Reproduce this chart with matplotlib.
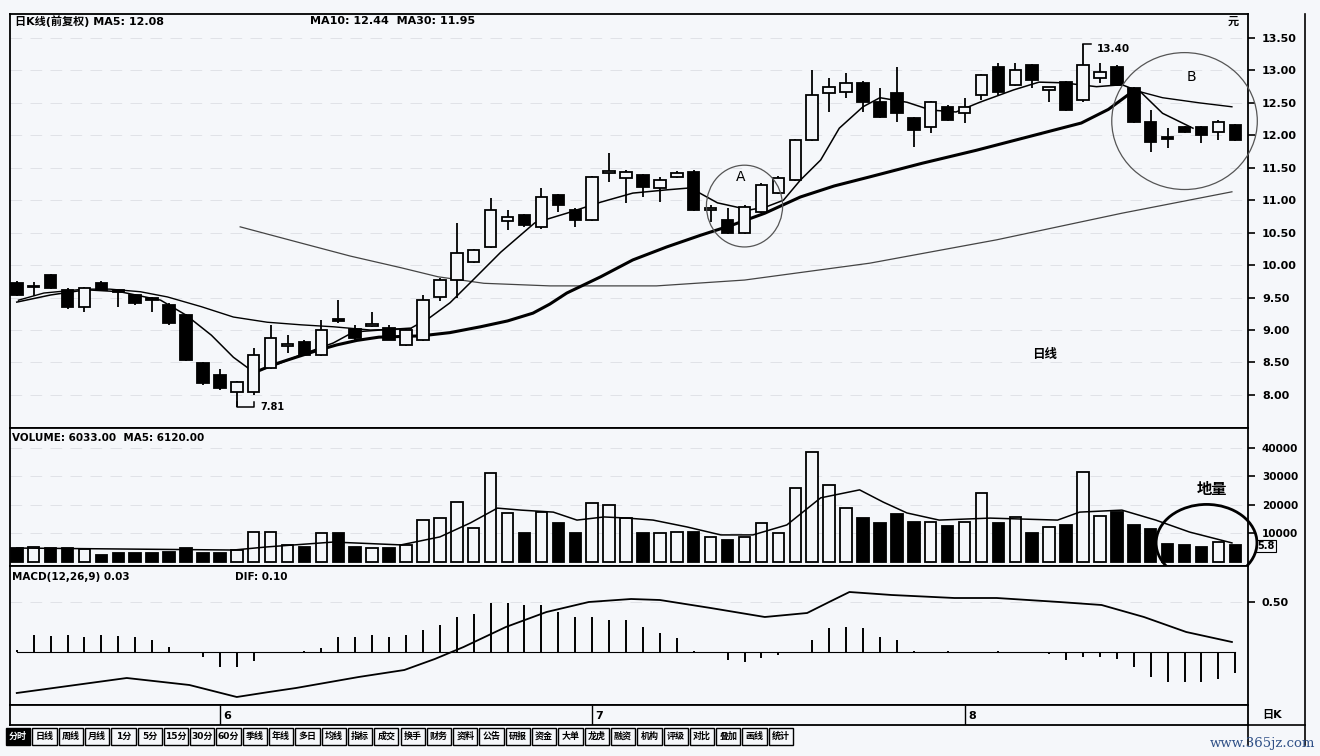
import matplotlib
matplotlib.use('Agg')
import matplotlib.pyplot as plt
from matplotlib.patches import Ellipse, Rectangle
from matplotlib.lines import Line2D
import numpy as np

plt.rcParams['font.family'] = ['DejaVu Sans', 'Noto Sans CJK SC']

# ---- 日K线数据 ----
opens = [9.73, 9.66, 9.85, 9.62, 9.36, 9.73, 9.60, 9.54, 9.48, 9.39, 9.23, 8.49, 8.31, 8.05, 8.05, 8.42,
         8.76, 8.82, 8.62, 9.15, 9.02, 9.06, 9.03, 8.77, 8.85, 9.51, 9.77, 10.05, 10.28, 10.68, 10.77, 10.59,
         11.08, 10.85, 10.70, 11.42, 11.34, 11.39, 11.19, 11.36, 11.44, 10.85, 10.70, 10.50, 10.82, 11.11,
         11.31, 11.93, 12.65, 12.67, 12.81, 12.51, 12.65, 12.27, 12.13, 12.44, 12.34, 12.62, 13.05, 12.78,
         13.08, 12.70, 12.82, 12.54, 12.88, 13.05, 12.73, 12.21, 11.97, 12.13, 12.13, 12.05, 12.16]
closes = [9.54, 9.68, 9.65, 9.36, 9.65, 9.62, 9.59, 9.42, 9.47, 9.11, 8.54, 8.18, 8.10, 8.20, 8.62, 8.88,
          8.78, 8.62, 9.00, 9.14, 8.88, 9.08, 8.85, 9.00, 9.46, 9.77, 10.19, 10.23, 10.85, 10.74, 10.62, 11.05,
          10.93, 10.70, 11.36, 11.43, 11.44, 11.20, 11.31, 11.42, 10.85, 10.88, 10.50, 10.90, 11.24, 11.34,
          11.93, 12.62, 12.75, 12.81, 12.51, 12.28, 12.34, 12.08, 12.51, 12.24, 12.44, 12.93, 12.67, 13.01,
          12.85, 12.74, 12.39, 13.08, 12.98, 12.78, 12.21, 11.90, 11.95, 12.05, 12.01, 12.21, 11.93]
highs = [9.75, 9.74, 9.87, 9.64, 9.67, 9.76, 9.62, 9.55, 9.51, 9.42, 9.25, 8.50, 8.40, 8.22, 8.72, 9.08,
         8.92, 8.84, 9.15, 9.46, 9.07, 9.28, 9.08, 9.02, 9.54, 9.80, 10.65, 10.25, 11.03, 10.85, 10.79, 11.19,
         11.10, 10.88, 11.38, 11.73, 11.46, 11.41, 11.36, 11.45, 11.46, 10.92, 10.88, 10.92, 11.26, 11.38,
         11.95, 13.01, 12.88, 12.96, 12.83, 12.73, 13.05, 12.29, 12.53, 12.46, 12.58, 12.95, 13.11, 13.11,
         13.10, 12.75, 12.84, 13.40, 13.11, 13.08, 12.75, 12.39, 12.11, 12.15, 12.15, 12.23, 12.18]
lows = [9.52, 9.52, 9.63, 9.33, 9.28, 9.60, 9.36, 9.38, 9.28, 9.08, 8.52, 8.16, 8.08, 7.81, 8.00, 8.40,
        8.65, 8.60, 8.60, 9.11, 8.83, 9.04, 8.84, 8.75, 8.83, 9.45, 9.50, 10.03, 10.26, 10.54, 10.58, 10.56,
        10.82, 10.59, 10.68, 11.28, 10.96, 11.05, 10.97, 11.34, 10.83, 10.66, 10.48, 10.48, 10.80, 11.09,
        11.29, 11.91, 12.36, 12.58, 12.36, 12.26, 12.21, 11.82, 12.04, 12.22, 12.19, 12.54, 12.62, 12.76,
        12.73, 12.51, 12.37, 12.52, 12.81, 12.76, 12.19, 11.74, 11.81, 12.03, 11.88, 11.93, 11.91]

volumes = [4900, 5300, 4900, 4900, 4500, 2500, 3200, 3200, 3200, 3500, 4900, 3200, 3200, 4200, 10500,
           10500, 6000, 5300, 10200, 10200, 5300, 4900, 4900,
           6000, 14700, 15400, 21000, 11900, 31200, 17200, 10200, 17500, 13700, 10200, 20700, 20000, 15400,
           10200, 10200, 10500, 10500, 8800, 7700, 8800, 13700, 10200, 26000, 38600, 27000, 18900, 15400,
           13700, 16800, 14000, 14000, 12600, 14000, 24200, 13700, 15800, 10200, 12300, 13000, 31600, 16100,
           17500, 13000, 11600, 6300, 6000, 5300, 7000, 6000]

# 均线 (读图取点: K线序号, 价格)
ma5_idx = [0, 2.0, 4.1, 6.1, 8.5, 10.0, 11.5, 12.8, 14.0, 15.3, 16.8, 18.7, 19.9, 21.5, 23.3, 24.4, 25.6,
           26.8, 28.6, 30.6, 32.5, 34.5, 36.4, 38.4, 39.8, 41.4, 43.3, 44.3, 45.3, 46.3, 47.5, 48.6, 50.0,
           51.0, 52.6, 54.0, 55.5, 56.9, 58.9, 60.4, 61.8, 63.8, 65.3, 66.4, 67.7, 69.5]
ma5_val = [9.43, 9.54, 9.62, 9.59, 9.46, 9.23, 8.92, 8.58, 8.35, 8.46, 8.62, 8.80, 8.97, 9.00, 9.03, 9.19,
           9.42, 9.73, 10.20, 10.65, 10.80, 10.97, 11.11, 11.16, 11.19, 10.96, 10.85, 10.90, 11.00, 11.31,
           11.62, 12.11, 12.44, 12.58, 12.51, 12.39, 12.36, 12.51, 12.70, 12.82, 12.81, 12.75, 12.78, 12.67,
           12.34, 12.11]
ma10_idx = [0.1, 1.6, 4.0, 5.5, 7.3, 8.9, 10.9, 12.8, 14.8, 16.8, 18.7, 20.9, 23.3,
            np.nan, 66.4, 67.7, 69.9, 71.8]
ma10_val = [9.46, 9.57, 9.63, 9.63, 9.59, 9.51, 9.36, 9.20, 9.12, 9.08, 9.05, 9.00, 9.02,
            np.nan, 12.67, 12.58, 12.50, 12.44]
ma30_idx = [14.0, 15.2, 16.5, 17.7, 18.9, 20.1, 21.4, 23.9, 25.6, 27.4, 29.0, 30.5, 31.5, 32.5, 34.5,
            36.4, 38.4, 40.4, 42.3, 44.2, 46.3, 48.3, 50.4, 53.5, 56.7, 59.8, 62.9, 64.5, 65.8]
ma30_val = [8.34, 8.47, 8.58, 8.68, 8.77, 8.84, 8.89, 8.91, 8.96, 9.05, 9.14, 9.26, 9.40, 9.57, 9.82,
            10.08, 10.28, 10.46, 10.62, 10.80, 11.05, 11.22, 11.36, 11.57, 11.77, 11.98, 12.19, 12.40, 12.65]
ma60_idx = [13.2, 16.8, 19.7, 22.7, 24.9, 27.6, 31.5, 37.8, 43.0, 50.4, 57.9, 65.3, 71.8]
ma60_val = [10.59, 10.34, 10.14, 9.96, 9.82, 9.72, 9.68, 9.68, 9.77, 10.03, 10.39, 10.80, 11.13]

vma_idx = [0, 12.8, 14.8, 18.7, 22.7, 25.0, 26.8, 28.4, 29.8, 31.7, 33.1, 34.7, 36.1, 37.6, 39.6, 41.6,
           43.5, 45.5, 47.5, 49.8, 51.2, 52.6, 54.5, 57.5, 61.5, 62.8, 65.3, 67.3, 69.3, 71.8]
vma_val = [4900, 4200, 5300, 7000, 6000, 8800, 13700, 18900, 18200, 17500, 14700, 15800, 15400, 14700,
           12300, 9500, 9500, 13000, 22500, 25300, 21000, 17200, 14700, 15400, 14700, 17500, 18200, 14700,
           10500, 6700]

macd_hist = [0.02, 0.17, 0.16, 0.17, 0.15, 0.17, 0.16, 0.15, 0.12, 0.05,
             0.0, -0.05, -0.15, -0.15, -0.09, -0.01, 0.0, 0.01,
             0.04, 0.15, 0.15, 0.17, 0.15, 0.17, 0.22, 0.27, 0.35, 0.38, 0.49, 0.49, 0.47, 0.47, 0.40, 0.35,
             0.35, 0.32, 0.32, 0.25, 0.19, 0.14, 0.01, 0.0, -0.08, -0.10, -0.06, -0.03, 0.0, 0.12, 0.24, 0.25,
             0.24, 0.15, 0.12,
             0.01, 0.0, 0.01, 0.0, -0.01, 0.01, 0.0, -0.01, -0.02,
             -0.08, -0.05, -0.05, -0.07, -0.15, -0.25, -0.30, -0.30, -0.30, -0.27, -0.21]
dif_idx = [0, 6.5, 10.2, 13.0, 14.9, 16.5, 20.2, 22.9, 24.7, 26.4, 28.9, 31.3, 33.8, 36.3, 38.0, 41.0,
           44.2, 46.7, 48.0, 49.2, 51.7, 55.4, 57.9, 61.6, 64.1, 66.6, 69.1, 71.8]
dif_val = [-0.41, -0.26, -0.33, -0.45, -0.40, -0.36, -0.25, -0.18, -0.07, 0.05, 0.25, 0.40, 0.50, 0.53,
           0.52, 0.44, 0.35, 0.39, 0.50, 0.60, 0.57, 0.54, 0.54, 0.50, 0.47, 0.35, 0.20, 0.10]

price_ticks = [8.0, 8.5, 9.0, 9.5, 10.0, 10.5, 11.0, 11.5, 12.0, 12.5, 13.0, 13.5]
vol_ticks = [10000, 20000, 30000, 40000]
month_idx = [12, 34, 56]
month_lab = ['6', '7', '8']
buttons = ['分时', '日线', '周线', '月线', '1分', '5分', '15分', '30分', '60分', '季线', '年线', '多日',
           '均线', '指标', '成交', '换手', '财务', '资料', '公告', '研报', '资金', '大单', '龙虎', '融资',
           '机构', '评级', '对比', '叠加', '画线', '统计']

W, H = 1320, 756
BG = '#f5f7fa'
GRID = '#dcdfe4'
n = len(opens)
x = np.arange(n)
o, c, h, l = map(np.array, (opens, closes, highs, lows))
up = c >= o


def frame(left, top, right, bottom):
    return [left / W, 1 - bottom / H, (right - left) / W, (bottom - top) / H]


fig = plt.figure(figsize=(W / 100, H / 100), dpi=100, facecolor=BG)
ax_p = fig.add_axes(frame(10, 14, 1248, 428))
ax_v = fig.add_axes(frame(10, 428, 1248, 566), sharex=ax_p)
ax_m = fig.add_axes(frame(10, 566, 1248, 705), sharex=ax_p)
ax_d = fig.add_axes(frame(10, 705, 1248, 725), sharex=ax_p)

for ax in (ax_p, ax_v, ax_m, ax_d):
    ax.set_facecolor(BG)
    for s in ax.spines.values():
        s.set_linewidth(1.3)
    ax.yaxis.tick_right()
    ax.tick_params(axis='x', bottom=False, labelbottom=False)
    ax.tick_params(axis='y', direction='out', length=5, width=1.2, pad=5, labelsize=8)

ax_p.set_xlim(-0.4, 72.75)

# ---- K线 ----
body_w = 0.68
bottoms = np.minimum(o, c)
heights = np.maximum(np.abs(c - o), 0.025)
ax_p.vlines(x, l, h, color='k', lw=1.3, zorder=3)
ax_p.bar(x, heights, body_w, bottom=bottoms, color=np.where(up, BG, 'k'),
         edgecolor='k', linewidth=1.3, zorder=4)

ax_p.plot(ma60_idx, ma60_val, color='#444444', lw=0.9, zorder=2)
ax_p.plot(ma30_idx, ma30_val, color='k', lw=2.2, zorder=2)
ax_p.plot(ma10_idx, ma10_val, color='k', lw=1.0, zorder=2)
ax_p.plot(ma5_idx, ma5_val, color='k', lw=1.1, zorder=2)

ax_p.set_ylim(7.49, 13.87)
ax_p.set_yticks(price_ticks)
ax_p.set_yticklabels([f'{v:.2f}' for v in price_ticks], fontweight='bold')
ax_p.grid(axis='y', color=GRID, lw=0.6, ls=(0, (14, 10)))

# 最高 / 最低价标注
i_hi = int(np.argmax(h))
i_lo = int(np.argmin(l))
ax_p.plot([i_hi, i_hi + 0.5], [h[i_hi], h[i_hi]], color='k', lw=1.1)
ax_p.annotate(f'{h[i_hi]:.2f}', (i_hi + 0.5, h[i_hi]), xytext=(4, -3), textcoords='offset points',
              fontsize=7.5, fontweight='bold', va='center')
ax_p.plot([i_lo, i_lo, i_lo + 1, i_lo + 1], [l[i_lo] + 0.08, l[i_lo], l[i_lo], l[i_lo] + 0.08],
          color='k', lw=1.1)
ax_p.annotate(f'{l[i_lo]:.2f}', (i_lo + 1, l[i_lo]), xytext=(5, 0), textcoords='offset points',
              fontsize=7, fontweight='bold', va='center')

# 圈注 A / B
ax_p.add_patch(Ellipse((43.0, 10.91), 4.5, 1.26, fill=False, ec='#555', lw=0.9, zorder=5))
ax_p.text(42.8, 11.36, 'A', fontsize=10, ha='center', va='center')
ax_p.add_patch(Ellipse((69.0, 12.22), 8.6, 2.11, fill=False, ec='#555', lw=0.9, zorder=5, clip_on=False))
ax_p.text(69.4, 12.90, 'B', fontsize=10, ha='center', va='center')
ax_p.text(60.7, 8.62, '日线', fontsize=9, fontweight='bold', ha='center', va='center')

# ---- 成交量 ----
ax_v.bar(x, volumes, 0.68, color=np.where(up, BG, 'k'), edgecolor='k', linewidth=1.3, zorder=3)
ax_v.plot(vma_idx, vma_val, color='k', lw=1.1, zorder=4)
ax_v.set_ylim(-1400, 47000)
ax_v.set_yticks(vol_ticks)
ax_v.set_yticklabels([str(v) for v in vol_ticks], fontsize=7.5, fontweight='bold')
ax_v.grid(axis='y', color=GRID, lw=0.6, ls=(0, (14, 10)))
ax_v.add_patch(Ellipse((70.3, 6700), 5.96, 27000, fill=False, ec='k', lw=2.0, zorder=6, clip_on=False))
ax_v.text(70.6, 25300, '地量', fontsize=11, fontweight='bold', ha='center', va='center')
ax_v.text(73.3, 5500, '5.8', fontsize=7, fontweight='bold', ha='left', va='center', clip_on=False,
          bbox=dict(boxstyle='square,pad=0.1', fc=BG, ec='k', lw=0.8))

# ---- MACD ----
ax_m.vlines(x, 0, macd_hist, color='k', lw=1.4, zorder=3)
ax_m.plot([x[0], x[-1]], [0, 0], color='k', lw=0.8, zorder=2)
ax_m.plot(dif_idx, dif_val, color='k', lw=1.3, zorder=4)
ax_m.set_ylim(-0.53, 0.86)
ax_m.set_yticks([0.5])
ax_m.set_yticklabels(['0.50'], fontsize=8, fontweight='bold')
ax_m.grid(axis='y', color=GRID, lw=0.6, ls=(0, (14, 10)))

# ---- 日期条 ----
ax_d.set_yticks([])
ax_d.set_ylim(0, 1)
for i, lab in zip(month_idx, month_lab):
    ax_d.vlines(i, 0, 1, color='k', lw=1.0)
    ax_d.text(i + 0.2, 0.45, lab, fontsize=8, fontweight='bold', va='center')

# ---- 标题文字 ----
fig.text(15 / W, 1 - 21 / H, '日K线(前复权) MA5: 12.08', fontsize=8, fontweight='bold', va='center')
fig.text(310 / W, 1 - 21 / H, 'MA10: 12.44  MA30: 11.95', fontsize=8, fontweight='bold', va='center')
fig.text(1228 / W, 1 - 22 / H, '元', fontsize=8, fontweight='bold', va='center')
fig.text(12 / W, 1 - 438 / H, 'VOLUME: 6033.00  MA5: 6120.00', fontsize=7.5, fontweight='bold', va='center')
fig.text(12 / W, 1 - 577 / H, 'MACD(12,26,9) 0.03', fontsize=7.5, fontweight='bold', va='center')
fig.text(235 / W, 1 - 577 / H, 'DIF: 0.10', fontsize=7.5, fontweight='bold', va='center')

# ---- 右侧刻度栏与底部按钮 ----
fig.add_artist(Line2D([1305 / W, 1305 / W], [1 - 14 / H, 1 - 745 / H], color='k', lw=1.2))
fig.add_artist(Line2D([1248 / W, 1248 / W], [1 - 725 / H, 1 - 745 / H], color='k', lw=1.2))
fig.add_artist(Line2D([1248 / W, 1305 / W], [1 - 725 / H, 1 - 725 / H], color='k', lw=1.2))
fig.text(1262 / W, 1 - 715 / H, '日K', fontsize=8, fontweight='bold', va='center')

bx, bw = 6, 26.3
for k, lab in enumerate(buttons):
    left = bx + k * bw
    sel = k == 0
    fig.add_artist(Rectangle((left / W, 1 - 745 / H), (bw - 2) / W, 17 / H, transform=fig.transFigure,
                             fc='k' if sel else BG, ec='k', lw=1.0))
    fig.text((left + bw / 2 - 1) / W, 1 - 736.5 / H, lab, fontsize=6.5, ha='center', va='center',
             color=BG if sel else 'k', fontweight='bold')

fig.text(1315 / W, 1 - 743 / H, 'www.365jz.com', fontsize=9.5, family='DejaVu Serif', color='#2e4f86',
         ha='right', va='center')

fig.savefig('out.png', dpi=100, facecolor=BG)
